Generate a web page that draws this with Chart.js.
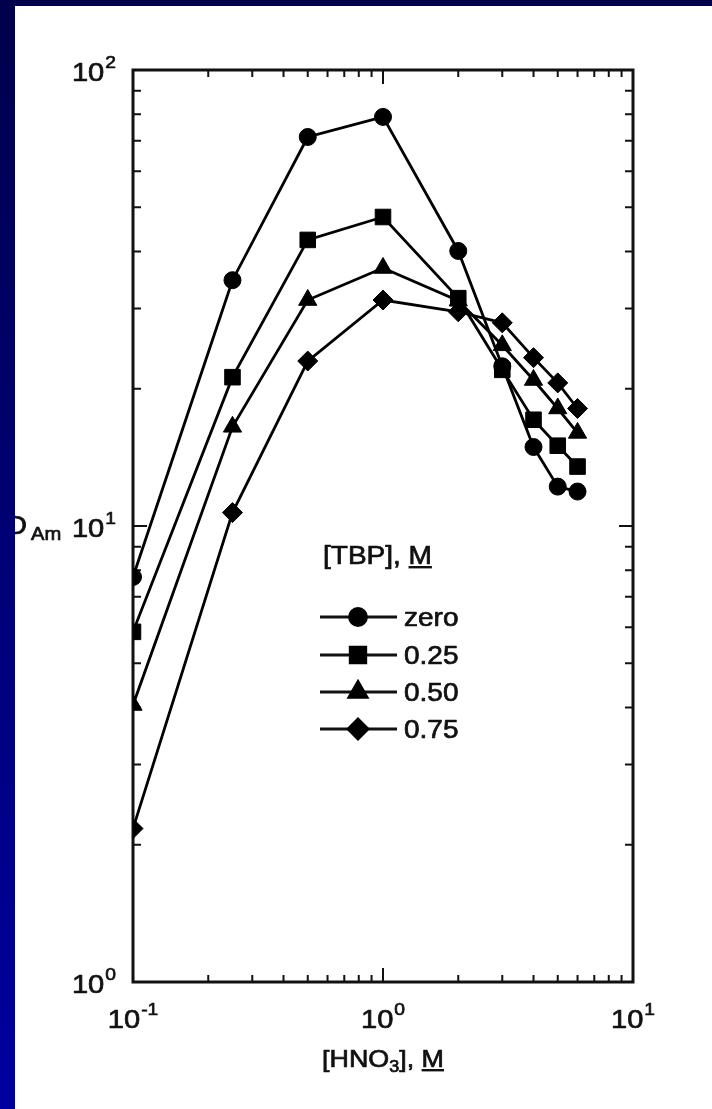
<!DOCTYPE html>
<html><head><meta charset="utf-8">
<script src="https://cdn.jsdelivr.net/npm/chart.js@4"></script>
<style>
html,body{margin:0;padding:0;background:#fff;overflow:hidden;}
#wrap{position:relative;width:712px;height:1109px;}
canvas{position:absolute;left:0;top:0;}
#lb{position:absolute;left:0;top:0;width:15px;height:1109px;background:linear-gradient(#00004c,#0000a0);z-index:2}
#tb{position:absolute;left:0;top:0;width:712px;height:6px;background:#00004c;z-index:2}
</style></head>
<body><div id="wrap"><canvas id="c" width="712" height="1109"></canvas><div id="lb"></div><div id="tb"></div></div>
<script>
// ---- data ----
const hno3 = [0.1, 0.25, 0.5, 1, 2, 3, 4, 5, 6];
const dZero = [7.73, 34.6, 71.3, 78.9, 40.1, 22.4, 14.9, 12.2, 11.9];
const d025  = [5.86, 21.2, 42.4, 47.6, 31.6, 22.0, 17.1, 15.0, 13.5];
const d050  = [4.05, 16.5, 31.3, 36.8, 31.2, 24.9, 20.9, 18.1, 16.0];
const d075  = [2.17, 10.7, 23.0, 31.3, 29.5, 27.9, 23.4, 20.6, 18.1];
const seriesLabels = ['zero', '0.25', '0.50', '0.75'];
const xTicks = [0.1, 1, 10];
const xTickExp = ['-1', '0', '1'];
const yTicks = [1, 10, 100];
const yTickExp = ['0', '1', '2'];

const FONT = '"Liberation Sans", Arial, Helvetica, sans-serif';
const SX = 1.12;

function pts(ys){ return hno3.map((x,i)=>({x:x, y:ys[i]})); }
function ds(label, ys, style, r){
  return {label:label, data:pts(ys), borderColor:'#000', backgroundColor:'#000',
    borderWidth:2.8, pointStyle:style, pointRadius:r, pointHoverRadius:r,
    pointBackgroundColor:'#000', pointBorderColor:'#000', pointBorderWidth:1, tension:0};
}

function measure(ctx, s, size){ ctx.font = size+'px '+FONT; return ctx.measureText(s).width*SX; }
function txt(ctx, s, x, y, size){
  ctx.save(); ctx.font = size+'px '+FONT; ctx.translate(x,y); ctx.scale(SX,1);
  ctx.textAlign='left'; ctx.textBaseline='alphabetic'; ctx.fillStyle='#111';
  ctx.strokeStyle='#111'; ctx.lineWidth=0.7; ctx.lineJoin='round';
  ctx.fillText(s,0,0); ctx.strokeText(s,0,0); ctx.restore();
}
function powW(ctx, e, size){ return measure(ctx,'10',size) + 1 + measure(ctx,e,size*0.66); }
function pow(ctx, e, x, y, size){
  const w = measure(ctx,'10',size);
  txt(ctx,'10',x,y,size);
  txt(ctx,e,x+w+1,y-size*0.5,size*0.66);
}

const framePlugin = {
  id:'frame',
  beforeDatasetsDraw(chart){
    const ctx = chart.ctx, a = chart.chartArea, xs = chart.scales.x, ys = chart.scales.y;
    ctx.save();
    ctx.strokeStyle = '#111'; ctx.lineCap='butt';
    ctx.lineWidth = 2;
    for (let d=-1; d<1; d++) for (let k=1;k<=9;k++){
      const v = k*Math.pow(10,d); const px = xs.getPixelForValue(v);
      if (k===1 && d===-1) continue;
      const L = k===1 ? 14 : 7;
      ctx.beginPath(); ctx.moveTo(px,a.bottom); ctx.lineTo(px,a.bottom-L);
      ctx.moveTo(px,a.top); ctx.lineTo(px,a.top+L); ctx.stroke();
    }
    for (let d=0; d<2; d++) for (let k=1;k<=9;k++){
      const v = k*Math.pow(10,d); const py = ys.getPixelForValue(v);
      if (k===1 && d===0) continue;
      const L = k===1 ? 14 : 8;
      ctx.beginPath(); ctx.moveTo(a.left,py); ctx.lineTo(a.left+L,py);
      ctx.moveTo(a.right,py); ctx.lineTo(a.right-L,py); ctx.stroke();
    }
    ctx.lineWidth = 3;
    ctx.strokeRect(a.left, a.top, a.right-a.left, a.bottom-a.top);
    ctx.restore();
  },
  afterDraw(chart){
    const ctx = chart.ctx, xs = chart.scales.x, ys = chart.scales.y;
    ctx.save();
    const S = 26;
    yTicks.forEach((v,i)=>{
      const py = ys.getPixelForValue(v);
      const w = powW(ctx, yTickExp[i], S);
      pow(ctx, yTickExp[i], 116 - w, py + 11, S);
    });
    const py10 = ys.getPixelForValue(10);
    txt(ctx,'D',6,py10+8,S);
    txt(ctx,'Am',31,py10+14,18);
    xTicks.forEach((v,i)=>{
      const px = xs.getPixelForValue(v);
      const w = powW(ctx, xTickExp[i], S);
      pow(ctx, xTickExp[i], px - w/2, 1028, S);
    });
    const T = 24;
    const w1 = measure(ctx,'[HNO',T), w2 = measure(ctx,'3',16), w3 = measure(ctx,'], ',T), w4 = measure(ctx,'M',T);
    let x0 = xs.getPixelForValue(1) - (w1+w2+w3+w4)/2, by = 1067;
    txt(ctx,'[HNO',x0,by,T); txt(ctx,'3',x0+w1,by+5,16); txt(ctx,'], ',x0+w1+w2,by,T);
    txt(ctx,'M',x0+w1+w2+w3,by,T);
    ctx.fillStyle='#111'; ctx.fillRect(x0+w1+w2+w3, by+2, w4, 2.4);
    const L = 25;
    const lw1 = measure(ctx,'[TBP], ',L), lw2 = measure(ctx,'M',L);
    txt(ctx,'[TBP], ',323,564,L); txt(ctx,'M',323+lw1,564,L);
    ctx.fillStyle='#111'; ctx.fillRect(323+lw1, 566, lw2, 2.4);
    const rows = [617, 655, 692, 729];
    chart.data.datasets.forEach((d,i)=>{
      const y = rows[i];
      ctx.strokeStyle='#111'; ctx.lineWidth=2.8;
      ctx.beginPath(); ctx.moveTo(320,y); ctx.lineTo(397,y); ctx.stroke();
      ctx.fillStyle='#000'; ctx.strokeStyle='#000';
      Chart.helpers.drawPoint(ctx,{pointStyle:d.pointStyle, radius:d.pointRadius, rotation:0, borderWidth:1}, 358, y);
      txt(ctx, seriesLabels[i], 404, y + L*0.36, L);
    });
    ctx.restore();
  }
};

new Chart(document.getElementById('c'), {
  type:'line',
  data:{datasets:[
    ds(seriesLabels[0], dZero, 'circle', 8.5),
    ds(seriesLabels[1], d025, 'rect', 11),
    ds(seriesLabels[2], d050, 'triangle', 10.5),
    ds(seriesLabels[3], d075, 'rectRot', 10)
  ]},
  options:{
    responsive:false, animation:false, devicePixelRatio:1,
    layout:{padding:{left:133, top:70, right:79, bottom:127}},
    plugins:{legend:{display:false}, tooltip:{enabled:false}},
    scales:{
      x:{type:'logarithmic', min:0.1, max:10, display:false},
      y:{type:'logarithmic', min:1, max:100, display:false}
    }
  },
  plugins:[framePlugin]
});
</script>
</body></html>
